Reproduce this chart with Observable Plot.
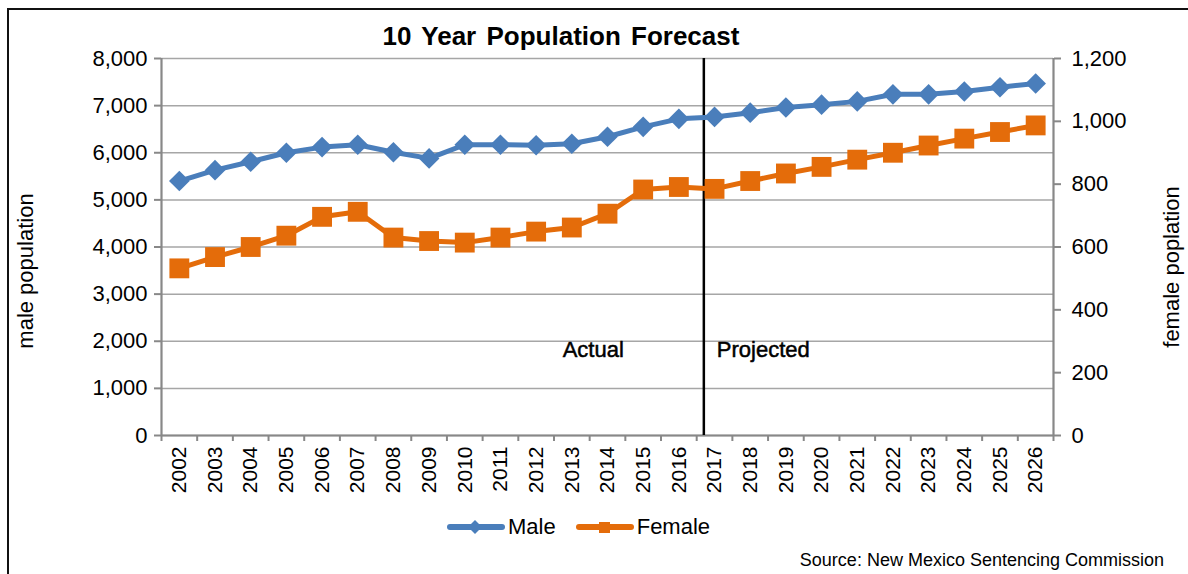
<!DOCTYPE html>
<html><head><meta charset="utf-8">
<script src="https://cdn.jsdelivr.net/npm/d3@7"></script>
<script src="https://cdn.jsdelivr.net/npm/@observablehq/plot@0.6"></script>
<style>
body{margin:0;background:#fff;font-family:"Liberation Sans",Arial,sans-serif;}
#wrap{position:relative;width:1188px;height:574px;overflow:hidden;background:#fff;}
#frame{position:absolute;left:7px;top:8px;width:1300px;height:700px;border-left:2px solid #111;border-top:2px solid #111;box-sizing:border-box;}
#title{position:absolute;top:21px;left:561px;transform:translateX(-50%);font-weight:bold;font-size:26px;word-spacing:3px;white-space:nowrap;color:#000;}
#chart{position:absolute;left:0;top:0;}
.ytitle{position:absolute;font-size:22px;white-space:nowrap;color:#000;transform:translate(-50%,-50%) rotate(-90deg);}
#legend{position:absolute;top:514px;left:447px;display:flex;align-items:center;font-size:22px;color:#000;}
#legend .item{display:flex;align-items:center;margin-right:20px;}
#legend svg{margin-right:3px;}
#source{position:absolute;top:550px;right:24px;font-size:18px;white-space:nowrap;color:#000;}
</style></head><body>
<div id="wrap">
<div id="frame"></div>
<div id="chart"></div>
<div id="title">10 Year Population Forecast</div>
<div class="ytitle" id="ylab" style="left:26px;top:271px;">male population</div>
<div class="ytitle" id="y2lab" style="left:1172px;top:267px;">female poplation</div>
<div id="legend"></div>
<div id="source">Source: New Mexico Sentencing Commission</div>
</div>
<script>
const years = [2002,2003,2004,2005,2006,2007,2008,2009,2010,2011,2012,2013,2014,2015,2016,2017,2018,2019,2020,2021,2022,2023,2024,2025,2026];
const maleValues = [5400,5630,5810,6000,6120,6170,6010,5880,6170,6170,6160,6190,6340,6550,6720,6760,6850,6960,7020,7090,7240,7240,7300,7390,7470];
const femaleValues = [532,568,600,636,696,712,630,619,614,630,649,662,706,783,791,785,810,834,855,878,900,923,945,966,987];
const leftTicks = [0,1000,2000,3000,4000,5000,6000,7000,8000];
const rightTicks = [0,200,400,600,800,1000,1200];
const dividerYear = 2016.7;
const phaseLabels = ["Actual","Projected"];
const phaseLabelValue = 1820;
const seriesNames = ["Male","Female"];

const blue = "#4a7ebb", orange = "#e46c0a", gray = "#888888", gridGray = "#a6a6a6";
const k = d3.max(leftTicks) / d3.max(rightTicks);
const fmt = d3.format(",");
const male = years.map((year, i) => ({year, value: maleValues[i]}));
const female = years.map((year, i) => ({year, value: femaleValues[i]}));
const x0 = d3.min(years) - 0.5, x1 = d3.max(years) + 0.5;
const boundaries = years.map(y => y - 0.5).concat([x1]);

const chart = Plot.plot({
  width: 1188, height: 500,
  marginTop: 58, marginBottom: 65, marginLeft: 161, marginRight: 135,
  x: {type: "linear", domain: [x0, x1]},
  y: {domain: [0, d3.max(leftTicks)]},
  style: {fontFamily: '"Liberation Sans", Arial, sans-serif', fontSize: "20px", color: "#000", background: "transparent", overflow: "visible"},
  marks: [
    Plot.gridY(leftTicks, {stroke: gridGray, strokeOpacity: 1, strokeWidth: 1.5}),
    Plot.ruleX([x0], {stroke: gray, strokeWidth: 2.2}),
    Plot.ruleX([x1], {stroke: gray, strokeWidth: 2.2}),
    Plot.ruleY([0], {stroke: gray, strokeWidth: 2.2}),
    Plot.axisY(leftTicks, {anchor: "left", tickFormat: fmt, tickSize: 7, tickPadding: 7, stroke: gray, strokeWidth: 2, fill: "#000", fontSize: 22, label: null}),
    Plot.axisY(rightTicks.map(v => v * k), {anchor: "right", tickFormat: d => fmt(Math.round(d / k)), tickSize: 7, tickPadding: 11, stroke: gray, strokeWidth: 2, fill: "#000", fontSize: 22, label: null}),
    Plot.axisX(boundaries, {anchor: "bottom", tickSize: 6, tickFormat: () => "", stroke: gray, strokeWidth: 2, label: null}),
    Plot.axisX(years, {anchor: "bottom", tickSize: 0, tickPadding: 11, tickRotate: -90, tickFormat: d => String(d), fill: "#000", fontSize: 21, label: null}),
    Plot.ruleX([dividerYear], {stroke: "#000", strokeWidth: 2.5}),
    Plot.text([phaseLabels[0]], {x: () => dividerYear, y: () => phaseLabelValue, text: d => d, textAnchor: "end", dx: -80, fontSize: 22, fill: "#000", stroke: "#000", strokeWidth: 0.5}),
    Plot.text([phaseLabels[1]], {x: () => dividerYear, y: () => phaseLabelValue, text: d => d, textAnchor: "start", dx: 13, fontSize: 22, fill: "#000", stroke: "#000", strokeWidth: 0.5}),
    Plot.line(male, {x: "year", y: "value", stroke: blue, strokeWidth: 5}),
    Plot.dot(male, {x: "year", y: "value", symbol: "diamond2", r: 9.3, fill: blue, stroke: "none"}),
    Plot.line(female, {x: "year", y: d => d.value * k, stroke: orange, strokeWidth: 5}),
    Plot.dot(female, {x: "year", y: d => d.value * k, symbol: "square", r: 11.2, fill: orange, stroke: "none"})
  ]
});
document.getElementById("chart").appendChild(chart);

// legend
const legend = document.getElementById("legend");
const colors = [blue, orange];
seriesNames.forEach((name, i) => {
  const item = document.createElement("div");
  item.className = "item";
  const marker = i === 0
    ? `<path d="M28,2 L35,9 L28,16 L21,9 Z" fill="${colors[i]}"/>`
    : `<rect x="23" y="4" width="11" height="11" fill="${colors[i]}"/>`;
  item.innerHTML = `<svg width="58" height="18" viewBox="0 0 58 18"><line x1="3" y1="9" x2="55" y2="9" stroke="${colors[i]}" stroke-width="6" stroke-linecap="round"/>${marker}</svg><span>${name}</span>`;
  legend.appendChild(item);
});
</script>
</body></html>
